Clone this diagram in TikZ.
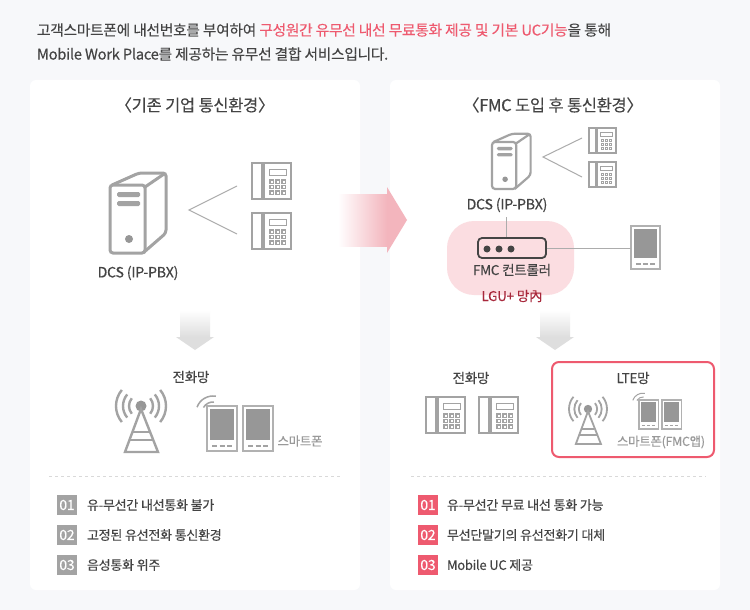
\documentclass[tikz,border=0pt]{standalone}
\usepackage{fontspec}
\setmainfont[LetterSpace=-2,FakeBold=0.25]{Noto Sans CJK KR}
\usepackage{xcolor}
\usetikzlibrary{positioning,calc}

\definecolor{pagebg}{HTML}{F7F8FA}
\definecolor{icongray}{HTML}{A3A3A3}
\definecolor{fillgray}{HTML}{979797}
\definecolor{linegray}{HTML}{ACACAC}
\definecolor{textgray}{HTML}{444444}
\definecolor{softgray}{HTML}{999999}
\definecolor{lgured}{HTML}{EE5A6F}
\definecolor{darkred}{HTML}{A8283C}
\definecolor{blobpink}{HTML}{FBDDE1}
\definecolor{arrowpink}{HTML}{F3B5BD}
\definecolor{arrowgray}{HTML}{DEDEDE}

\newcommand{\fsize}[1]{\fontsize{#1}{#1}\selectfont}

\tikzset{
    panel/.style={fill=white, rounded corners=6pt},
    plainlabel/.style={inner sep=0pt, text=textgray, font=\fsize{13.5}},
    dcslabel/.style={inner sep=0pt, text=textgray, font=\fsize{14.2}},
    headlabel/.style={inner sep=0pt, text=textgray, font=\fsize{16.5}},
    smalllabel/.style={inner sep=0pt, text=softgray, font=\fsize{12.4}},
    itemlabel/.style={right, inner sep=0pt, text=textgray, font=\fsize{13}},
    badgegray/.style={fill=icongray, text=white, inner sep=0pt, minimum size=20pt, font=\fsize{14}},
    badgered/.style={badgegray, fill=lgured},
    dashline/.style={dashed, draw=black!15, line width=.7pt},
    wire/.style={draw=linegray, line width=1pt},
    pics/server/.style={code={
        \draw[icongray, rounded corners=3pt] (0,0) rectangle (35,68);
        \draw[icongray, rounded corners=3pt] (2,0) -- (29,-12) -- (56,-12) -- (56,48) -- (33,68);
        \draw[icongray] (35,2) -- (54,-11);
        \fill[icongray, rounded corners=1.5pt] (7,7) rectangle (30,12);
        \fill[icongray, rounded corners=1.5pt] (7,16) rectangle (30,21);
        \fill[fillgray] (19,54) circle (4);
    }},
    pics/deskphone/.style={code={
        \draw[icongray] (0,0) rectangle (10,36);
        \draw[icongray] (12,0) rectangle (39,36);
        \draw[icongray, line width=1pt] (17,6) rectangle (34,12);
        \foreach \i in {0,1,2} {
            \foreach \j in {0,1,2} {
                \draw[icongray, line width=1.1pt] (18+6*\i,17+5.5*\j) rectangle +(3.2,3.2);
            }
        }
    }},
    pics/mobile/.style={code={
        \coordinate (-w) at (0,22);
        \draw[icongray!85] (0,0) rectangle (30,45);
        \fill[fillgray] (3,3) rectangle (27,34);
        \draw[icongray] (5,39.5) -- (10,39.5);
        \draw[icongray] (12.5,39.5) -- (17.5,39.5);
        \draw[icongray] (20,39.5) -- (25,39.5);
    }},
    pics/tower/.style={code={
        \fill[fillgray] (0,0) circle (5.5);
        \draw[icongray] (0,3) -- (-16,46) -- (17,46) -- cycle;
        \draw[icongray] (-8.5,26) -- (8.5,26);
        \draw[icongray] (-11.5,34) -- (11.5,34);
        \draw[icongray] (-40:12) arc[start angle=-40, end angle=40, radius=12];
        \draw[icongray] (-40:18) arc[start angle=-40, end angle=40, radius=18];
        \draw[icongray] (-40:25) arc[start angle=-40, end angle=40, radius=25];
        \draw[icongray] (140:12) arc[start angle=140, end angle=220, radius=12];
        \draw[icongray] (140:18) arc[start angle=140, end angle=220, radius=18];
        \draw[icongray] (140:25) arc[start angle=140, end angle=220, radius=25];
    }},
    pics/wifi/.style={code={
        \draw[icongray] (-150:11) arc[start angle=-150, end angle=-85, radius=11];
        \draw[icongray] (-160:17) arc[start angle=-160, end angle=-80, radius=17];
    }}
}

\begin{document}
\begin{tikzpicture}[x=1pt, y=-1pt, line width=2pt]
    \fill[pagebg] (0,0) rectangle (750,610);
    \useasboundingbox (0,0) rectangle (750,610);

    % Intro
    \node[right, inner sep=0pt, text=textgray, font=\fsize{14.75}] (introa) at (36,30)
        {고객스마트폰에 내선번호를 부여하여 \textcolor{lgured}{구성원간 유무선 내선 무료통화 제공 및 기본 UC기능}을 통해};
    \node[right, inner sep=0pt, text=textgray, font=\fsize{14.75}] (introb) at (36,54)
        {Mobile Work Place를 제공하는 유무선 결합 서비스입니다.};

    % Panels
    \fill[panel] (30,80) rectangle (360,590);
    \fill[panel] (390,80) rectangle (720,590);
    \node[headlabel] (titleold) at (195,105) {〈기존 기업 통신환경〉};
    \node[headlabel] (titlenew) at (553,105) {〈FMC 도입 후 통신환경〉};

    % Middle arrow
    \shade[left color=white, right color=arrowpink] (338,194) rectangle (387,246);
    \fill[arrowpink] (387,187) -- (407,220) -- (387,253) -- cycle;

    % Old network
    \pic[line width=3pt] (srva) at (110,185) {server};
    \node[dcslabel] (dcsa) at (138,273) {DCS (IP-PBX)};
    \coordinate (forka) at (189,210);
    \coordinate (forkaa) at (237,186);
    \coordinate (forkab) at (237,234);
    \draw[wire] (forkaa) -- (forka) -- (forkab);
    \pic (phaa) at (252,163) {deskphone};
    \pic (phab) at (252,213) {deskphone};

    \shade[top color=white, bottom color=arrowgray] (180,310) rectangle (210,337);
    \fill[arrowgray] (176,337) -- (214,337) -- (195,350) -- cycle;

    \node[plainlabel] (neta) at (191,377) {전화망};
    \pic[line width=2.4pt] (towa) at (141,406) {tower};
    \pic[line width=1.5pt] (wifa) at (213,413) {wifi};
    \pic (moba) at (207,406) {mobile};
    \pic (mobb) at (243,406) {mobile};
    \node[smalllabel] (smarta) at (300,441) {스마트폰};

    \draw[dashline] (49,476) -- (341,476);
    \node[badgegray] (noaa) at (67,505) {01};
    \node[badgegray] (noab) at (67,535) {02};
    \node[badgegray] (noac) at (67,565) {03};
    \node[itemlabel] (itaa) at (86,505) {유-무선간 내선통화 불가};
    \node[itemlabel] (itab) at (86,535) {고정된 유선전화 통신환경};
    \node[itemlabel] (itac) at (86,565) {음성통화 위주};

    % New network
    \pic[scale=.69, line width=2.2pt] (srvb) at (492,142) {server};
    \node[dcslabel] (dcsb) at (507,205) {DCS (IP-PBX)};
    \coordinate (forkb) at (543,157);
    \coordinate (forkba) at (582,138);
    \coordinate (forkbb) at (582,177);
    \draw[wire] (forkba) -- (forkb) -- (forkbb);
    \pic[scale=.69, line width=1.7pt] (phba) at (589,128) {deskphone};
    \pic[scale=.69, line width=1.7pt] (phbb) at (589,162) {deskphone};

    % Controller
    \fill[blobpink, rounded corners=27pt] (447,221) rectangle (574,295);
    \node[draw=textgray, rounded corners=4pt, line width=1.8pt, minimum width=68pt, minimum height=20pt, inner sep=0pt] (ctrl) at (512,248) {};
    \fill[textgray] (487,249) circle (3.5);
    \fill[textgray] (499,249) circle (3.5);
    \fill[textgray] (511,249) circle (3.5);
    \node[plainlabel] (ctrltext) at (512,270) {FMC 컨트롤러};
    \node[plainlabel, text=darkred] (lguin) at (512,296) {LGU+ 망內};
    \coordinate (dcslink) at (506,217);
    \draw[wire] (dcslink) -- (dcslink |- ctrl.north);
    \pic[scale=.95] (mobc) at (631,226) {mobile};
    \draw[wire] (ctrl.east) -- (ctrl.east -| mobc-w);

    \shade[top color=white, bottom color=arrowgray] (540,310) rectangle (570,337);
    \fill[arrowgray] (536,337) -- (574,337) -- (555,350) -- cycle;

    \node[plainlabel] (netb) at (471,378) {전화망};
    \pic (phbc) at (426,397) {deskphone};
    \pic (phbd) at (479,397) {deskphone};

    % LTE box
    \draw[draw=lgured, rounded corners=7pt] (552,362) rectangle (714,457);
    \node[plainlabel] (ltenet) at (633,378) {LTE망};
    \pic[scale=.76, line width=1.8pt] (towb) at (588,409) {tower};
    \pic[scale=.64, line width=1pt] (wifb) at (643,404) {wifi};
    \pic[scale=.64, line width=1.4pt] (mobd) at (639,400) {mobile};
    \pic[scale=.64, line width=1.4pt] (mobe) at (662,400) {mobile};
    \node[smalllabel] (smartb) at (661,442) {스마트폰(FMC앱)};

    \draw[dashline] (411,476) -- (706,476);
    \node[badgered] (noba) at (428,505) {01};
    \node[badgered] (nobb) at (428,535) {02};
    \node[badgered] (nobc) at (428,565) {03};
    \node[itemlabel] (itba) at (446,505) {유-무선간 무료 내선 통화 가능};
    \node[itemlabel] (itbb) at (446,535) {무선단말기의 유선전화기 대체};
    \node[itemlabel] (itbc) at (446,565) {Mobile UC 제공};
\end{tikzpicture}
\end{document}
